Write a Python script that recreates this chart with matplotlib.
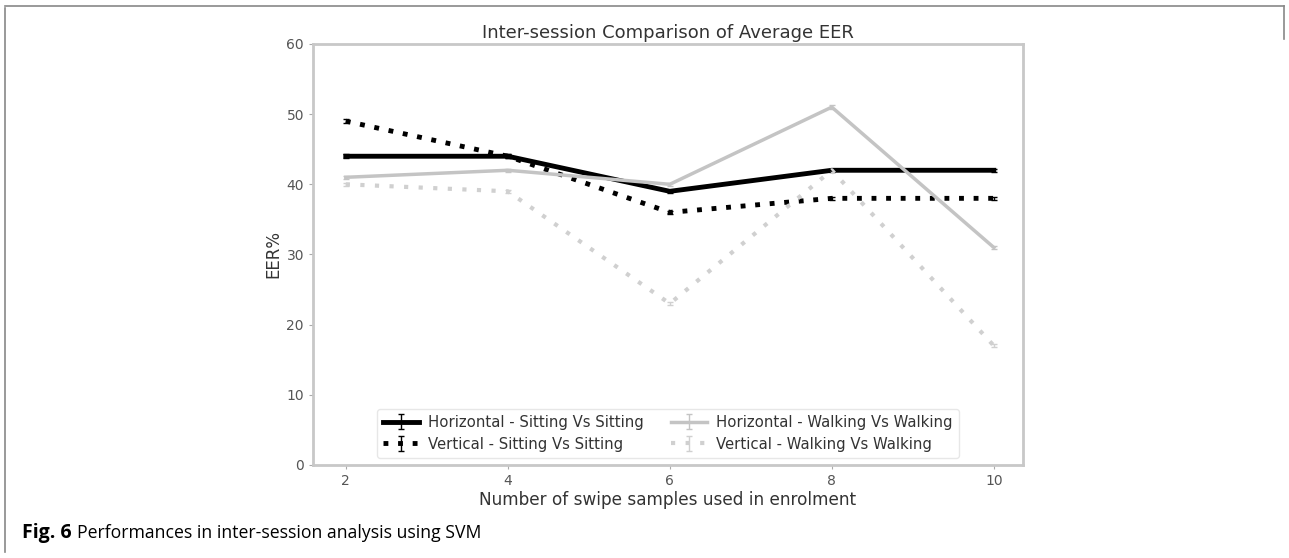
import matplotlib.pyplot as plt

# Data
samples = [2, 4, 6, 8, 10]
h_sit = [44, 44, 39, 42, 42]
v_sit = [49, 44, 36, 38, 38]
h_walk = [41, 42, 40, 51, 31]
v_walk = [40, 39, 23, 42, 17]
err = [0.25, 0.25, 0.25, 0.25, 0.25]
yticks = [0, 10, 20, 30, 40, 50, 60]

fig = plt.figure(figsize=(12.89, 5.58), dpi=100)
ax = fig.add_axes([0.2428, 0.1667, 0.5508, 0.7545])

ax.errorbar(samples, h_sit, yerr=err, color="black", lw=3.5, capsize=2.5,
            elinewidth=1, label="Horizontal - Sitting Vs Sitting")
ax.errorbar(samples, v_sit, yerr=err, color="black", lw=3.5, capsize=2.5,
            elinewidth=1, dashes=(1, 2), label="Vertical - Sitting Vs Sitting")
ax.errorbar(samples, h_walk, yerr=err, color="#c4c4c4", lw=2.5, capsize=2.5,
            elinewidth=1, label="Horizontal - Walking Vs Walking")
ax.errorbar(samples, v_walk, yerr=err, color="#d0d0d0", lw=3, capsize=2.5,
            elinewidth=1, dashes=(1, 2.5), label="Vertical - Walking Vs Walking")

ax.set_xlim(1.595, 10.36)
ax.set_ylim(0, 60)
ax.set_yticks(yticks)
ax.set_xticks(samples)
for s in ax.spines.values():
    s.set_color("#c8c8c8")
    s.set_linewidth(2)
ax.tick_params(colors="#555555", labelsize=10, length=3, color="#aaaaaa")
ax.set_title("Inter-session Comparison of Average EER", fontsize=13, color="#333333", pad=4)
ax.set_xlabel("Number of swipe samples used in enrolment", fontsize=12.2, color="#333333", labelpad=2)
ax.set_ylabel("EER%", fontsize=12, color="#333333", labelpad=3)

leg = ax.legend(loc="lower center", ncol=2, fontsize=10.75, frameon=True,
                handlelength=2.4, handletextpad=0.6, columnspacing=1.85,
                borderaxespad=0.5, labelspacing=0.45)
leg.get_frame().set_edgecolor("#e2e2e2")
for t in leg.get_texts():
    t.set_color("#333333")

# outer frame
fig.add_artist(plt.Line2D([0.004, 0.004], [0.01, 0.985], color="#888888", lw=1.2))
fig.add_artist(plt.Line2D([0.004, 0.996], [0.99, 0.99], color="#888888", lw=1.2))
fig.add_artist(plt.Line2D([0.996, 0.996], [0.93, 0.99], color="#888888", lw=1.2))

fig.text(0.017, 0.036, "Fig. 6", fontsize=14, fontweight="bold", family="Open Sans")
fig.text(0.06, 0.036, "Performances in inter-session analysis using SVM", fontsize=12.7, family="Open Sans")

fig.savefig("out.png", dpi=100)
